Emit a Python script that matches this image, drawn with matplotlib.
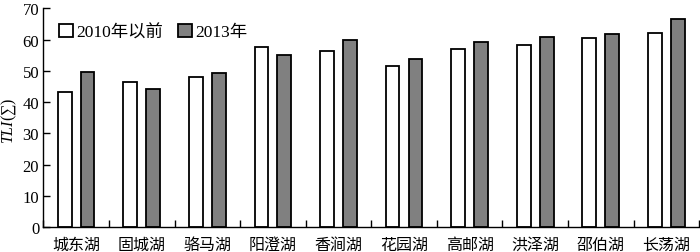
import numpy as np
import matplotlib
matplotlib.use("Agg")
import matplotlib.pyplot as plt

# TLI values per lake
LAKES = ['城东湖', '固城湖', '骆马湖', '阳澄湖', '香涧湖', '花园湖', '高邮湖', '洪泽湖', '邵伯湖', '长荡湖']
TLI_BEFORE_2010 = [43.1, 46.3, 48.1, 57.8, 56.4, 51.6, 56.9, 58.3, 60.4, 62.2]
TLI_2013 = [49.5, 44.2, 49.4, 55.1, 59.9, 53.8, 59.1, 60.9, 61.9, 66.5]
SERIES_NAMES = ['2010年以前', '2013年']
Y_TICKS = [0, 10, 20, 30, 40, 50, 60, 70]

plt.rcParams['font.family'] = ['Liberation Serif', 'Noto Sans CJK SC', 'DejaVu Sans']
plt.rcParams['font.size'] = 12
plt.rcParams['mathtext.fontset'] = 'custom'
plt.rcParams['mathtext.it'] = 'Liberation Serif:italic'
plt.rcParams['mathtext.rm'] = 'Liberation Serif'

fig = plt.figure(figsize=(7.0, 2.53), dpi=100)
ax = fig.add_axes([0.0619, 0.0976, 0.937, 0.8654])

x = np.arange(len(LAKES))
w = 0.21
off = 0.175
ax.bar(x - off, TLI_BEFORE_2010, w, color='white', edgecolor='black', linewidth=1.3,
       label=SERIES_NAMES[0])
ax.bar(x + off, TLI_2013, w, color='#808080', edgecolor='black', linewidth=1.3,
       label=SERIES_NAMES[1])

ax.set_xlim(-0.5, len(LAKES) - 0.5)
ax.set_ylim(0, 70)
ax.set_yticks(Y_TICKS)
ax.set_xticks(x)
ax.set_xticklabels(LAKES, fontsize=11.5)
ax.set_xticks(np.arange(len(LAKES) + 1) - 0.5, minor=True)
ax.tick_params(axis='x', which='major', length=0, pad=7)
ax.tick_params(axis='x', which='minor', direction='in', length=5, width=1)
ax.tick_params(axis='y', direction='in', length=5, width=1, pad=3, labelsize=12)

for s in ['top', 'right']:
    ax.spines[s].set_visible(False)
for s in ['left', 'bottom']:
    ax.spines[s].set_linewidth(1.0)

# y label placed in figure coords so it stays inside the picture
fig.text(9 / 700, 1 - 121 / 253, r'$TLI$(∑)', rotation=90,
         ha='center', va='center', fontsize=11.5)

ax.legend(loc='upper left', bbox_to_anchor=(0.006, 0.985), ncol=2, frameon=False,
          handlelength=0.8, handleheight=0.8, handletextpad=0.15,
          columnspacing=0.9, borderaxespad=0.3, fontsize=12.5)

fig.savefig('out.png', dpi=100)
